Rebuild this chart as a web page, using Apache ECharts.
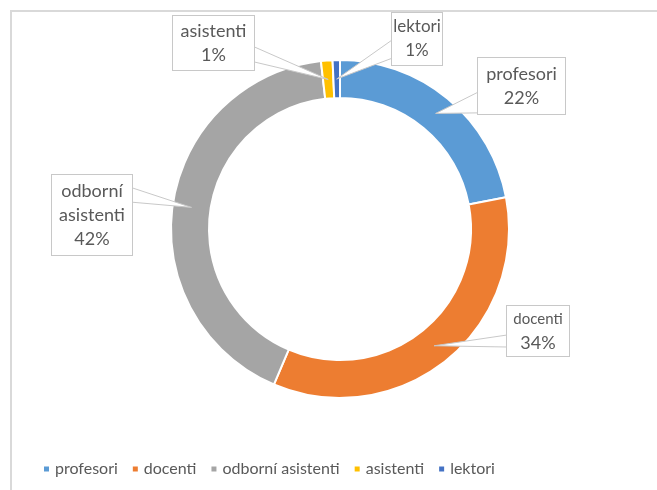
<!DOCTYPE html>
<html>
<head>
<meta charset="utf-8">
<script src="https://cdn.jsdelivr.net/npm/echarts@6/dist/echarts.min.js"></script>
<style>
  html, body { margin: 0; padding: 0; background: #fff; }
  #chart { width: 657px; height: 490px; }
</style>
</head>
<body>
<div id="chart"></div>
<script>
const categories = ["profesori", "docenti", "odborní asistenti", "asistenti", "lektori"];
const shares = [22.0, 34.4, 41.8, 1.1, 0.7];
const colors = ["#5B9BD5", "#ED7D31", "#A5A5A5", "#FFC000", "#4472C4"];

// callout boxes: centre, size, side facing the ring, wedge base as fraction of box height
const boxes = [
  { cx: 521.5, cy: 86, w: 87, h: 56, side: "left", base: [0.61, 0.98] },
  { cx: 538, cy: 331, w: 62, h: 50, side: "left", base: [0.58, 0.82] },
  { cx: 92, cy: 215, w: 80, h: 80, side: "right", base: [0.16, 0.34] },
  { cx: 213.5, cy: 43, w: 81, h: 54, side: "right", base: [0.57, 0.85] },
  { cx: 417, cy: 39, w: 50, h: 52, side: "left", base: [0.52, 0.87] },
];

const center = [340, 229];
const radius = [131, 169];
const total = shares.reduce((a, b) => a + b, 0);
const font = "Lato, 'Noto Sans', sans-serif";

const chart = echarts.init(document.getElementById("chart"));

const midAngle = (idx) => {
  let before = 0;
  for (let i = 0; i < idx; i++) before += shares[i];
  return ((before + shares[idx] / 2) / total) * Math.PI * 2;
};

const pieData = categories.map((name, i) => ({ name: name, value: shares[i] }));

chart.setOption({
  animation: false,
  color: colors,
  textStyle: { fontFamily: font },
  graphic: [
    {
      type: "rect",
      shape: { x: 11, y: 11, width: 720, height: 520 },
      style: { fill: "none", stroke: "#d9d9d9", lineWidth: 2 },
      silent: true,
    },
  ],
  legend: {
    left: 37,
    top: 456,
    itemWidth: 7,
    itemHeight: 7,
    itemGap: 13,
    icon: "rect",
    textStyle: { color: "#595959", fontSize: 16, fontFamily: font },
    data: categories,
  },
  series: [
    {
      // the ring itself
      type: "pie",
      z: 2,
      center: center,
      radius: radius,
      startAngle: 90,
      clockwise: true,
      itemStyle: { borderColor: "#fff", borderWidth: 2 },
      label: { show: false },
      labelLine: { show: false },
      data: pieData,
    },
    {
      // transparent copy on top, carries the callouts so their wedges lie over the ring
      type: "pie",
      z: 3,
      silent: true,
      legendHoverLink: false,
      center: center,
      radius: radius,
      startAngle: 90,
      clockwise: true,
      avoidLabelOverlap: false,
      percentPrecision: 0,
      itemStyle: { color: "rgba(0,0,0,0)", borderWidth: 0 },
      label: {
        show: true,
        position: "outside",
        color: "#595959",
        fontSize: 18,
        lineHeight: 24,
        align: "center",
        overflow: "none",
        backgroundColor: "#fff",
        borderColor: "#c8c8c8",
        borderWidth: 1,
        formatter: (p) => {
          const n = p.name === "docenti" ? "{s|docenti}" : p.name.replace(" ", "\n");
          return n + "\n" + p.percent + "%";
        },
        rich: { s: { fontSize: 15, lineHeight: 24, color: "#595959", fontFamily: font } },
      },
      labelLine: { show: true, length: 10, length2: 10, lineStyle: { color: "#c8c8c8", width: 1 } },
      labelLayout: (params) => {
        const b = boxes[params.dataIndex];
        const a = midAngle(params.dataIndex);
        const rm = (radius[0] + radius[1]) / 2;
        const tip = [center[0] + rm * Math.sin(a), center[1] - rm * Math.cos(a)];
        const top = b.cy - b.h / 2;
        const sx = b.side === "left" ? b.cx - b.w / 2 : b.cx + b.w / 2;
        return {
          x: b.cx,
          y: b.cy,
          align: "center",
          verticalAlign: "middle",
          labelLinePoints: [
            [sx, top + b.h * b.base[0]],
            tip,
            [sx, top + b.h * b.base[1]],
          ],
        };
      },
      data: pieData.map((d, i) => {
        const b = boxes[i];
        const lines = d.name.split(" ").length + 1;
        return {
          name: d.name,
          value: d.value,
          label: {
            width: b.w,
            padding: [(b.h - lines * 24) / 2, 0],
            fontSize: d.name === "lektori" ? 17 : 18,
          },
        };
      }),
    },
  ],
});

// callout wedges are white inside, like the boxes
chart.getZr().storage.getDisplayList(true).forEach((el) => {
  if (el.type === "polyline") el.setStyle({ fill: "#fff" });
});
chart.getZr().refreshImmediately();
</script>
</body>
</html>
